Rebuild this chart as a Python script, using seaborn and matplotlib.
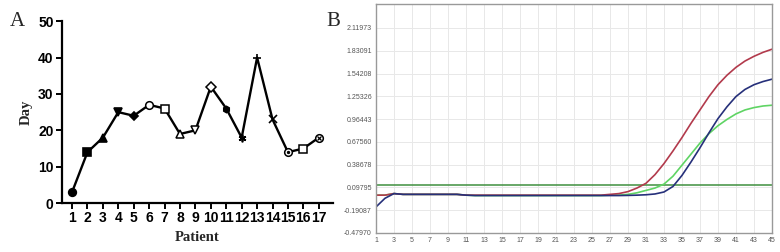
import numpy as np
import pandas as pd
import matplotlib
matplotlib.use('Agg')
import matplotlib.pyplot as plt
import seaborn as sns

# panel A data
patients = list(range(1, 18))
days = [3, 14, 18, 25, 24, 27, 26, 19, 20, 32, 26, 18, 40, 23, 14, 15, 18]
# marker per patient: (marker, filled)
marker_list = [('o', True), ('s', True), ('^', True), ('v', True), ('D', True),
               ('o', False), ('s', False), ('^', False), ('v', False), ('D', False),
               ('h', True), ((6, 2, 0), True), ('+', True), ('x', True),
               ('o', False), ('s', False), ('o', False)]
# inner symbols for patients 15 and 17
inner_marks = {15: '.', 17: 'x'}

# panel B data (amplification curves, cycles 1..45)
cycles = list(range(1, 46))
red_curve = [0.00, 0.00, 0.02, 0.01, 0.01, 0.01, 0.01, 0.01, 0.01, 0.01,
             0.00, 0.00, 0.00, 0.00, 0.00, 0.00, 0.00, 0.00, 0.00, 0.00,
             0.00, 0.00, 0.00, 0.00, 0.00, 0.00, 0.01, 0.02, 0.045, 0.09,
             0.15, 0.26, 0.40, 0.56, 0.73, 0.91, 1.08, 1.25, 1.40, 1.52,
             1.62, 1.70, 1.76, 1.81, 1.85]
blue_curve = [-0.15, -0.04, 0.02, 0.01, 0.01, 0.01, 0.01, 0.01, 0.01, 0.01,
              0.00, -0.005, -0.005, -0.005, -0.005, -0.005, -0.005, -0.005, -0.005, -0.005,
              -0.005, -0.005, -0.005, -0.005, -0.005, -0.005, -0.005, -0.005, -0.003, 0.00,
              0.005, 0.015, 0.04, 0.11, 0.25, 0.42, 0.60, 0.79, 0.97, 1.12,
              1.25, 1.34, 1.40, 1.44, 1.47]
green_curve = [0.00, 0.00, 0.02, 0.01, 0.01, 0.01, 0.01, 0.01, 0.01, 0.01,
               0.00, -0.005, -0.005, -0.005, -0.005, -0.005, -0.005, -0.005, -0.005, -0.005,
               -0.005, -0.005, -0.005, -0.005, -0.005, -0.005, 0.00, 0.00, 0.01, 0.03,
               0.06, 0.09, 0.14, 0.24, 0.38, 0.52, 0.66, 0.78, 0.88, 0.96,
               1.03, 1.08, 1.11, 1.13, 1.14]
threshold = 0.129
ytick_vals = [-0.47970, -0.19087, 0.09795, 0.38678, 0.67560,
              0.96443, 1.25326, 1.54208, 1.83091, 2.11973]
ytick_labels = ['-0.47970', '-0.19087', '0.09795', '0.38678', '0.67560',
                '0.96443', '1.25326', '1.54208', '1.83091', '2.11973']

sns.set_style('white')
plt.rcParams['font.family'] = ['Liberation Sans', 'DejaVu Sans']

fig = plt.figure(figsize=(7.8, 2.52), dpi=100)

# ---------- panel A ----------
axA = fig.add_axes([0.0795, 0.194, 0.347, 0.722])
dfA = pd.DataFrame({'Patient': patients, 'Day': days})
sns.lineplot(data=dfA, x='Patient', y='Day', color='black', lw=1.7, ax=axA)
for p, d, (m, filled) in zip(patients, days, marker_list):
    if filled:
        axA.plot(p, d, marker=m, ms=5.5 if m not in ('D', 'h') else 4.5,
                 color='black', mew=1.2, zorder=3)
    else:
        axA.plot(p, d, marker=m, ms=5.5, mfc='white', mec='black', mew=1.1, zorder=3)
    if p in inner_marks:
        axA.plot(p, d, marker=inner_marks[p], ms=3, color='black', mew=0.9, zorder=4)

axA.set_xlim(0.35, 17.9)
axA.set_ylim(0, 50)
axA.set_xticks(patients)
axA.set_yticks([0, 10, 20, 30, 40, 50])
sns.despine(ax=axA)
for s in ['left', 'bottom']:
    axA.spines[s].set_linewidth(1.6)
    axA.spines[s].set_color('black')
axA.tick_params(axis='both', direction='out', length=4, width=1.4, labelsize=10,
                pad=2, left=True, bottom=True, colors='black')
for lab in axA.get_xticklabels() + axA.get_yticklabels():
    lab.set_fontweight('bold')
axA.set_xlabel('Patient', fontfamily='Liberation Serif', fontweight='bold', fontsize=10.5, labelpad=4)
axA.set_ylabel('Day', fontfamily='Liberation Serif', fontweight='bold', fontsize=10.5, labelpad=4)
fig.text(0.012, 0.915, 'A', fontfamily='Liberation Serif', fontsize=15, va='center')
fig.text(0.418, 0.915, 'B', fontfamily='Liberation Serif', fontsize=15, va='center')

# ---------- panel B ----------
axB = fig.add_axes([0.482, 0.0754, 0.5077, 0.909])
dfB = pd.DataFrame({'cycle': cycles * 3,
                    'value': red_curve + blue_curve + green_curve,
                    'sample': ['red'] * 45 + ['blue'] * 45 + ['green'] * 45})
axB.axhline(threshold, color='#3f8f3f', lw=1.1, zorder=1)
sns.lineplot(data=dfB, x='cycle', y='value', hue='sample',
             palette={'red': '#b23a4c', 'blue': '#26307a', 'green': '#5fd464'},
             hue_order=['green', 'red', 'blue'], lw=1.2, legend=False, ax=axB, zorder=2,
             solid_joinstyle='round', solid_capstyle='round')
axB.set_xlim(1, 45)
axB.set_ylim(-0.4797, 2.424)
axB.set_xticks(list(range(1, 46, 2)))
axB.set_yticks(ytick_vals)
axB.set_yticklabels(ytick_labels)
axB.grid(True, color='#e8e8e8', lw=0.7)
axB.set_axisbelow(True)
axB.tick_params(axis='both', length=0, labelsize=5, colors='#555555', pad=3)
axB.set_xlabel('')
axB.set_ylabel('')
for s in axB.spines.values():
    s.set_color('#999999')
    s.set_linewidth(1.0)

fig.savefig('out.png', dpi=100)
